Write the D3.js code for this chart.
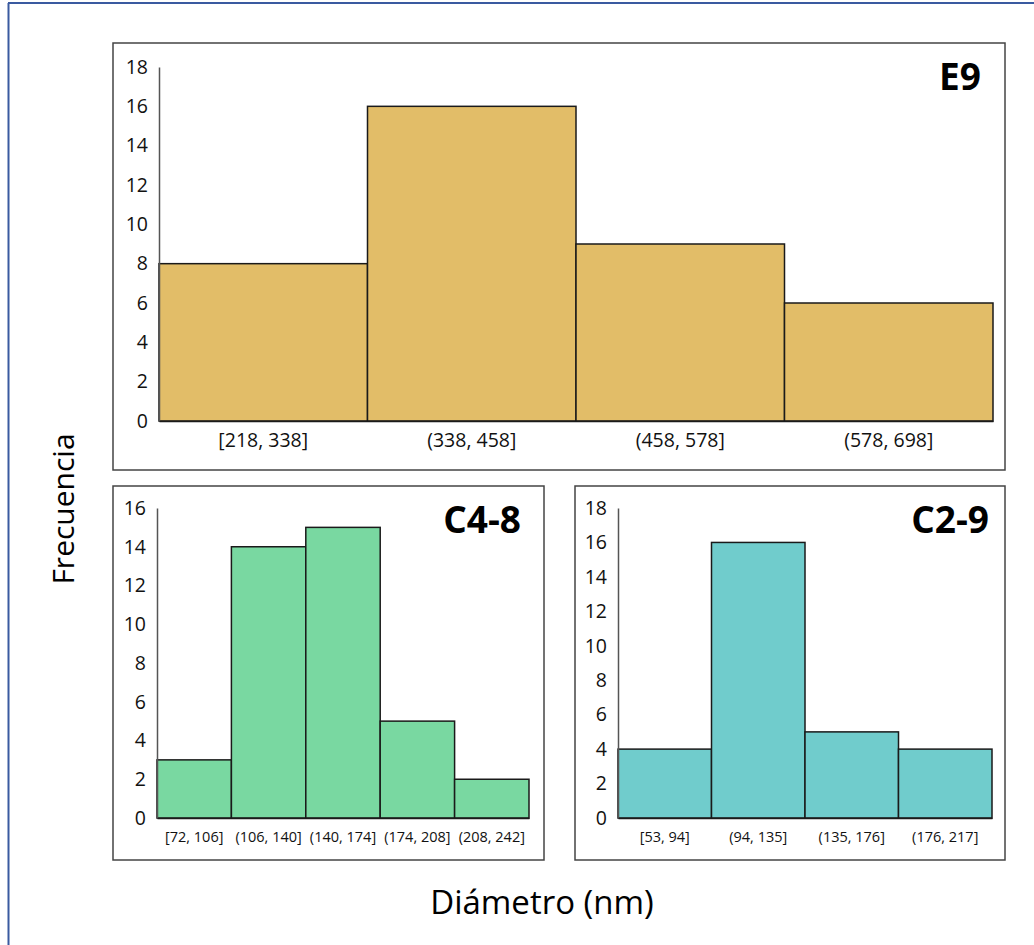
<!DOCTYPE html>
<html>
<head>
<meta charset="utf-8">
<script src="https://cdn.jsdelivr.net/npm/d3@7"></script>
<style>
  body { margin: 0; background: #fff; }
  svg { display: block; font-family: "Open Sans", "Noto Sans", sans-serif; }
</style>
</head>
<body>
<svg id="chart"></svg>
<script>
// data per panel
const e9Bins = ["[218, 338]", "(338, 458]", "(458, 578]", "(578, 698]"];
const e9Freq = [8, 16, 9, 6];
const c48Bins = ["[72, 106]", "(106, 140]", "(140, 174]", "(174, 208]", "(208, 242]"];
const c48Freq = [3, 14, 15, 5, 2];
const c29Bins = ["[53, 94]", "(94, 135]", "(135, 176]", "(176, 217]"];
const c29Freq = [4, 16, 5, 4];
const e9Ticks = [0, 2, 4, 6, 8, 10, 12, 14, 16, 18];
const c48Ticks = [0, 2, 4, 6, 8, 10, 12, 14, 16];
const c29Ticks = [0, 2, 4, 6, 8, 10, 12, 14, 16, 18];

const W = 1034, H = 945;
const FONT = '"Open Sans", "Noto Sans", sans-serif';
const svg = d3.select("#chart").attr("width", W).attr("height", H);

// blue page frame (left + top only, as cropped)
svg.append("line").attr("x1", 8.5).attr("x2", 8.5).attr("y1", 3).attr("y2", H)
  .attr("stroke", "#3a5aa0").attr("stroke-width", 2);
svg.append("line").attr("x1", 8).attr("x2", W).attr("y1", 3).attr("y2", 3)
  .attr("stroke", "#3a5aa0").attr("stroke-width", 2);

function panel(opt) {
  const { box, plot, bins, freq, ticks, color, title, tickFont, catFont, titleX, titleY } = opt;

  svg.append("rect")
    .attr("x", box[0]).attr("y", box[1])
    .attr("width", box[2] - box[0]).attr("height", box[3] - box[1])
    .attr("fill", "none").attr("stroke", "#444").attr("stroke-width", 1.5);

  const x = d3.scaleBand().domain(bins).range([plot.x0, plot.x1]).padding(0);
  const y = d3.scaleLinear().domain([0, d3.max(ticks)]).range([plot.y0, plot.y1]);

  svg.selectAll(null)
    .data(bins.map((b, i) => ({ b, v: freq[i] })))
    .enter().append("rect")
    .attr("x", d => x(d.b))
    .attr("y", d => y(d.v))
    .attr("width", x.bandwidth())
    .attr("height", d => y(0) - y(d.v))
    .attr("fill", color)
    .attr("stroke", "#1a1a1a")
    .attr("stroke-width", 1.5);

  const ya = svg.append("g")
    .attr("transform", `translate(${plot.x0},0)`)
    .call(d3.axisLeft(y).tickValues(ticks).tickSize(0).tickPadding(11).tickSizeOuter(0))
    .attr("font-family", FONT);
  ya.select(".domain").attr("stroke", "#555").attr("stroke-width", 1.5);
  ya.selectAll("text").style("font-size", tickFont + "px").attr("fill", "#111");

  const xa = svg.append("g")
    .attr("transform", `translate(0,${plot.y0})`)
    .call(d3.axisBottom(x).tickSize(0).tickPadding(opt.catPad))
    .attr("font-family", FONT);
  xa.select(".domain").attr("stroke", "#1a1a1a").attr("stroke-width", 1.5);
  xa.selectAll("text").style("font-size", catFont + "px").attr("fill", "#111");

  svg.append("text")
    .attr("x", titleX).attr("y", titleY)
    .attr("text-anchor", "end")
    .style("font-size", "37px").style("font-weight", "700")
    .attr("fill", "#000")
    .text(title);
}

panel({
  box: [113, 43, 1005, 470],
  plot: { x0: 159, x1: 993, y0: 421, y1: 67 },
  bins: e9Bins, freq: e9Freq, ticks: e9Ticks, color: "#e2bd68",
  title: "E9", tickFont: 19.5, catFont: 19.5, catPad: 12, titleX: 981, titleY: 90
});
panel({
  box: [113, 486, 544, 860],
  plot: { x0: 157, x1: 529, y0: 818, y1: 508 },
  bins: c48Bins, freq: c48Freq, ticks: c48Ticks, color: "#79d8a1",
  title: "C4-8", tickFont: 19.5, catFont: 14.5, catPad: 14, titleX: 521, titleY: 533
});
panel({
  box: [575, 486, 1005, 860],
  plot: { x0: 618, x1: 992, y0: 818, y1: 508 },
  bins: c29Bins, freq: c29Freq, ticks: c29Ticks, color: "#70cccc",
  title: "C2-9", tickFont: 19.5, catFont: 14.5, catPad: 14, titleX: 989, titleY: 533
});

// axis titles
svg.append("text")
  .attr("transform", "translate(74,509) rotate(-90)")
  .attr("text-anchor", "middle")
  .style("font-size", "30px").attr("fill", "#000")
  .text("Frecuencia");
svg.append("text")
  .attr("x", 542).attr("y", 914)
  .attr("text-anchor", "middle")
  .style("font-size", "33px").attr("fill", "#000")
  .text("Diámetro (nm)");
</script>
</body>
</html>
